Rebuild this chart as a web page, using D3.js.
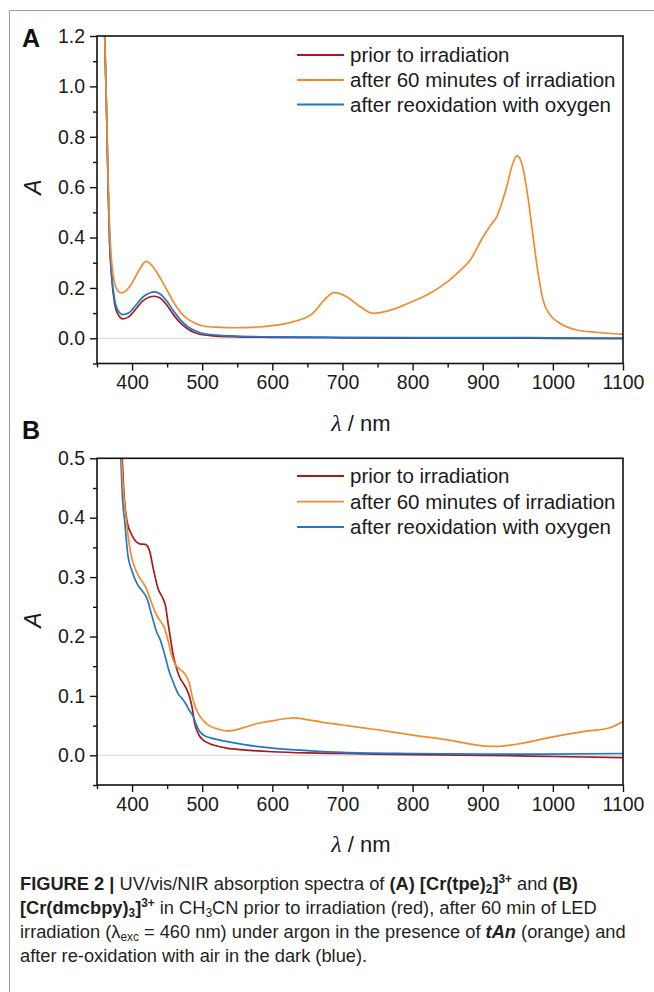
<!DOCTYPE html>
<html>
<head>
<meta charset="utf-8">
<script src="https://cdn.jsdelivr.net/npm/d3@7"></script>
<style>
  body { margin: 0; background: #fff; }
  svg { display: block; font-family: "Liberation Sans", Arial, Helvetica, sans-serif; }
</style>
</head>
<body>
<svg id="fig" width="654" height="992"></svg>
<script>
// ---- data: [wavelength nm, absorbance] ----
const seriesLabels = ['prior to irradiation', 'after 60 minutes of irradiation', 'after reoxidation with oxygen'];
const seriesColors = ['#a8191f', '#f08c2e', '#1f78c8'];

// panel A: [Cr(tpe)2]3+
const tpePrior = [[358,1.55],[361,1.2],[364,0.85],[366,0.58],[368,0.38],[371,0.24],[375,0.14],[380,0.095],[387,0.077],[395,0.085],[405,0.115],[415,0.148],[425,0.164],[432,0.167],[440,0.16],[450,0.13],[460,0.09],[470,0.058],[480,0.036],[490,0.022],[500,0.014],[520,0.009],[550,0.006],[600,0.004],[700,0.002],[800,0.001],[900,0.001],[1000,0.0],[1100,-0.001]];
const tpeIrrad = [[358,1.55],[361,1.2],[364,0.87],[366,0.62],[368,0.44],[371,0.3],[375,0.22],[380,0.188],[385,0.18],[392,0.19],[400,0.22],[410,0.27],[420,0.305],[428,0.29],[440,0.24],[450,0.19],[460,0.14],[470,0.1],[480,0.075],[490,0.06],[500,0.05],[520,0.044],[550,0.042],[600,0.05],[630,0.066],[658,0.1],[675,0.155],[688,0.181],[706,0.165],[725,0.126],[744,0.099],[772,0.115],[800,0.146],[825,0.179],[850,0.225],[868,0.27],[882,0.31],[900,0.4],[910,0.444],[920,0.483],[934,0.6],[943,0.695],[949,0.725],[957,0.68],[965,0.55],[972,0.4],[979,0.258],[986,0.152],[996,0.093],[1010,0.06],[1034,0.033],[1062,0.024],[1100,0.016]];
const tpeReox = [[358,1.55],[361,1.2],[364,0.86],[366,0.59],[368,0.39],[371,0.25],[375,0.155],[380,0.11],[387,0.094],[395,0.1],[405,0.13],[415,0.163],[425,0.18],[432,0.184],[440,0.176],[450,0.146],[460,0.105],[470,0.07],[480,0.045],[490,0.03],[500,0.02],[520,0.013],[550,0.009],[600,0.006],[700,0.004],[800,0.003],[900,0.003],[1000,0.002],[1100,0.001]];

// panel B: [Cr(dmcbpy)3]3+
const dmcPrior = [[383,0.62],[386,0.5],[388,0.45],[393,0.393],[398,0.375],[404,0.362],[411,0.356],[419,0.355],[425,0.344],[431,0.31],[437,0.281],[444,0.264],[448,0.25],[451,0.225],[455,0.195],[459,0.167],[463,0.148],[468,0.131],[473,0.121],[478,0.111],[482,0.098],[486,0.078],[489,0.055],[492,0.043],[496,0.033],[500,0.027],[510,0.02],[520,0.016],[535,0.012],[560,0.009],[600,0.006],[650,0.004],[700,0.003],[800,0.001],[900,0.0],[1000,-0.002],[1100,-0.004]];
const dmcIrrad = [[382,0.62],[385,0.5],[388,0.44],[392,0.393],[396,0.355],[400,0.33],[406,0.31],[411,0.298],[416,0.29],[421,0.279],[428,0.256],[435,0.236],[441,0.225],[446,0.215],[451,0.195],[456,0.17],[462,0.152],[468,0.145],[473,0.14],[478,0.132],[482,0.12],[486,0.098],[490,0.082],[496,0.067],[502,0.058],[510,0.05],[520,0.045],[535,0.041],[545,0.042],[560,0.047],[580,0.054],[600,0.058],[620,0.062],[632,0.063],[645,0.061],[670,0.056],[700,0.051],[750,0.043],[800,0.034],[850,0.026],[900,0.016],[920,0.015],[950,0.019],[1000,0.031],[1050,0.041],[1080,0.046],[1100,0.057]];
const dmcReox = [[381,0.62],[384,0.5],[386,0.44],[389.6,0.393],[394,0.337],[400,0.31],[408,0.287],[415,0.276],[421,0.265],[428,0.236],[435,0.208],[440,0.195],[444,0.18],[448,0.163],[452,0.145],[457,0.128],[461,0.116],[466,0.103],[471,0.096],[477,0.086],[482,0.075],[487,0.066],[491,0.053],[496,0.041],[502,0.034],[513,0.029],[532,0.024],[560,0.018],[600,0.012],[650,0.008],[700,0.005],[800,0.003],[900,0.002],[1000,0.002],[1100,0.003]];

// ticks
const xDomain = [350, 1100];
const xMajor = [400, 500, 600, 700, 800, 900, 1000, 1100];
const xMinor = [350, 450, 550, 650, 750, 850, 950, 1050];
const yMajorA = [0, 0.2, 0.4, 0.6, 0.8, 1.0, 1.2];
const yMinorA = [-0.1, 0.1, 0.3, 0.5, 0.7, 0.9, 1.1];
const yMajorB = [0, 0.1, 0.2, 0.3, 0.4, 0.5];
const yMinorB = [-0.05, 0.05, 0.15, 0.25, 0.35, 0.45];

const svg = d3.select('#fig');
const left = 97, right = 623;

// thin grey border of the figure box
svg.append('path')
  .attr('d', 'M9.5,992 V10.5 H654')
  .attr('fill', 'none').attr('stroke', '#9a9a9a').attr('stroke-width', 1);

function drawPanel(opt) {
  const x = d3.scaleLinear().domain(xDomain).range([left, right]);
  const y = d3.scaleLinear().domain(opt.yDomain).range([opt.bottom, opt.top]);
  const g = svg.append('g');

  g.append('clipPath').attr('id', 'clip-' + opt.id)
    .append('rect').attr('x', left).attr('y', opt.top)
    .attr('width', right - left).attr('height', opt.bottom - opt.top);

  // zero line
  g.append('line')
    .attr('x1', left).attr('x2', right).attr('y1', y(0)).attr('y2', y(0))
    .attr('stroke', '#d4d4d4').attr('stroke-width', 1);

  const line = d3.line().x(d => x(d[0])).y(d => y(d[1])).curve(d3.curveMonotoneX);
  const plot = g.append('g').attr('clip-path', `url(#clip-${opt.id})`);
  // draw red first, then orange, blue on top
  [0, 2, 1].forEach(i => {
    plot.append('path')
      .datum(opt.series[i])
      .attr('fill', 'none')
      .attr('stroke', seriesColors[i])
      .attr('stroke-width', 1.7)
      .attr('stroke-linejoin', 'round')
      .attr('d', line);
  });

  // axes
  const styleAxis = sel => {
    sel.select('.domain').remove();
    sel.selectAll('line').attr('stroke', '#111').attr('stroke-width', 1.4);
    sel.selectAll('text').attr('fill', '#1a1a1a').style('font-size', '19.5px')
      .style('font-family', '"Liberation Sans", Arial, sans-serif');
  };
  g.append('g').attr('transform', `translate(0,${opt.bottom})`)
    .call(d3.axisBottom(x).tickValues(xMinor).tickSize(4).tickFormat(''))
    .call(styleAxis);
  g.append('g').attr('transform', `translate(0,${opt.bottom})`)
    .call(d3.axisBottom(x).tickValues(xMajor).tickSize(7).tickPadding(5).tickFormat(d3.format('d')))
    .call(styleAxis);
  g.append('g').attr('transform', `translate(${left},0)`)
    .call(d3.axisLeft(y).tickValues(opt.yMinor).tickSize(4).tickFormat(''))
    .call(styleAxis);
  g.append('g').attr('transform', `translate(${left},0)`)
    .call(d3.axisLeft(y).tickValues(opt.yMajor).tickSize(7).tickPadding(5).tickFormat(d3.format('.1f')))
    .call(styleAxis);

  // frame
  g.append('rect')
    .attr('x', left).attr('y', opt.top)
    .attr('width', right - left).attr('height', opt.bottom - opt.top)
    .attr('fill', 'none').attr('stroke', '#111').attr('stroke-width', 1.6);

  // legend
  seriesLabels.forEach((lab, i) => {
    const ly = opt.legendY[i];
    g.append('line').attr('x1', 297).attr('x2', 344).attr('y1', ly).attr('y2', ly)
      .attr('stroke', seriesColors[i]).attr('stroke-width', 1.8);
    g.append('text').attr('x', 350).attr('y', ly + 7)
      .attr('fill', '#1a1a1a').style('font-size', '20.5px').text(lab);
  });

  // axis titles
  const xt = g.append('text').attr('x', 361).attr('y', opt.xTitleY)
    .attr('text-anchor', 'middle').attr('fill', '#1a1a1a').style('font-size', '22px');
  xt.append('tspan').style('font-family', '"Liberation Serif", "Times New Roman", serif')
    .style('font-style', 'italic').style('font-size', '24px').text('λ');
  xt.append('tspan').text(' / nm');

  g.append('text')
    .attr('transform', `translate(41,${opt.yTitleY}) rotate(-90)`)
    .attr('text-anchor', 'middle').attr('fill', '#1a1a1a')
    .style('font-size', '23px').style('font-style', 'italic').text('A');

  // panel letter
  g.append('text').attr('x', 22).attr('y', opt.letterY)
    .attr('fill', '#111').style('font-size', '25px').style('font-weight', 'bold').text(opt.id);
}

drawPanel({
  id: 'A', top: 36, bottom: 363.5, yDomain: [-0.1, 1.2],
  yMajor: yMajorA, yMinor: yMinorA,
  series: [tpePrior, tpeIrrad, tpeReox],
  legendY: [55, 80, 104.5], xTitleY: 431, yTitleY: 187, letterY: 47
});
drawPanel({
  id: 'B', top: 458.3, bottom: 785, yDomain: [-0.05, 0.5],
  yMajor: yMajorB, yMinor: yMinorB,
  series: [dmcPrior, dmcIrrad, dmcReox],
  legendY: [476, 501.7, 527], xTitleY: 852, yTitleY: 620, letterY: 439
});

// ---- caption ----
const captionLines = [
  [{t: 'FIGURE 2', b: 1}, {t: ' | ', b: 1}, {t: 'UV/vis/NIR absorption spectra of '}, {t: '(A) [Cr(tpe)', b: 1}, {t: '2', b: 1, s: 'sub'}, {t: ']', b: 1}, {t: '3+', b: 1, s: 'sup'}, {t: ' and '}, {t: '(B)', b: 1}],
  [{t: '[Cr(dmcbpy)', b: 1}, {t: '3', b: 1, s: 'sub'}, {t: ']', b: 1}, {t: '3+', b: 1, s: 'sup'}, {t: ' in CH'}, {t: '3', s: 'sub'}, {t: 'CN prior to irradiation (red), after 60 min of LED'}],
  [{t: 'irradiation (λ'}, {t: 'exc', s: 'sub'}, {t: ' = 460 nm) under argon in the presence of '}, {t: 'tAn', b: 1, i: 1}, {t: ' (orange) and'}],
  [{t: 'after re-oxidation with air in the dark (blue).'}]
];
const captionY = [890, 914, 938, 962];

const cap = svg.append('g');
const capText = cap.selectAll('text').data(captionLines).join('text')
  .attr('x', 0).attr('y', (d, i) => captionY[i])
  .attr('fill', '#231f20').style('font-size', '18.5px');
capText.each(function(segs) {
  const t = d3.select(this);
  segs.forEach(s => {
    const ts = t.append('tspan').text(s.t);
    if (s.b) ts.style('font-weight', 'bold');
    if (s.i) ts.style('font-style', 'italic');
    if (s.s) ts.style('font-size', '12px').attr('baseline-shift', s.s === 'sub' ? '-3' : '7');
  });
});
// condense caption horizontally so line 3 spans x=20..626
const w3 = capText.nodes()[2].getComputedTextLength();
cap.attr('transform', `translate(20,0) scale(${606 / w3},1)`);
</script>
</body>
</html>
